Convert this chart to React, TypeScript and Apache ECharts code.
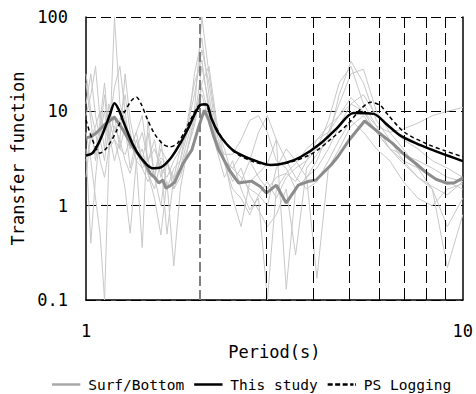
import React, { useEffect, useRef } from "react";
import * as echarts from "echarts";

// Period grid for individual Surf/Bottom records (s)
const recPeriods = [1.0, 1.03, 1.06, 1.09, 1.12, 1.15, 1.19, 1.23, 1.27, 1.31, 1.36, 1.41, 1.46, 1.52, 1.58, 1.64, 1.71, 1.78, 1.86, 1.94, 2.03, 2.12, 2.22, 2.33, 2.45, 2.58, 2.72, 2.87, 3.03, 3.2, 3.4, 3.6, 3.85, 4.1, 4.4, 4.7, 5.05, 5.45, 5.9, 6.4, 6.95, 7.6, 8.3, 9.1, 10.0];

const recA = [20, 8, 3, 6, 15, 5, 9, 4, 7, 2.5, 5, 3, 6, 2, 4, 3, 1.8, 3, 6, 25, 60, 15, 5, 3, 2.5, 2, 1.5, 1.3, 1.8, 1.2, 2, 2.5, 3, 4, 8, 20, 30, 12, 7, 4, 3, 2.5, 2, 1.8, 1.5];
const recB = [6, 3, 1.2, 0.5, 0.1, 3, 100, 12, 8, 4, 6, 9, 3, 2, 5, 1.5, 2.5, 3, 8, 20, 35, 10, 4, 2, 3, 1.5, 0.9, 1.2, 0.1, 1.5, 2.2, 1.8, 3, 5, 6, 9, 14, 10, 6, 4, 3.5, 3, 2.5, 2, 1.8];
const recC = [12, 25, 9, 5, 3, 7, 18, 30, 10, 4, 6, 3, 2.2, 1.5, 3, 0.5, 2, 4, 7, 15, 45, 20, 6, 3, 1.8, 2.5, 1.3, 0.9, 0.6, 0.8, 1.5, 0.3, 2.5, 3.5, 5, 15, 34, 20, 8, 5, 3, 2, 1.5, 0.6, 1.2];
const recD = [4, 0.4, 2, 6, 10, 4, 5, 3, 1.5, 0.51, 3, 0.36, 8, 2, 1, 3, 1.5, 2.5, 5, 10, 100, 25, 7, 4, 2, 1.8, 3, 6, 9, 5, 0.13, 1.5, 2, 3, 6, 12, 25, 28, 10, 6, 4, 2.5, 1.5, 0.22, 0.8];
const recE = [9, 15, 30, 8, 4, 12, 6, 8, 15, 6, 3, 4, 2.2, 1.2, 0.49, 1.8, 0.23, 1.5, 4, 8, 30, 12, 5, 2.8, 1.5, 1.2, 0.8, 1.3, 1.0, 2.5, 4, 3, 2, 2.5, 4, 7, 12, 15, 9, 7, 5, 4, 3, 2.5, 2];
const recF = [3, 5, 7, 10, 6, 8, 5, 4, 3.5, 5, 3, 2.5, 3, 4, 2.5, 2, 3, 4, 6, 10, 15, 8, 4, 3, 2.5, 3.5, 3, 2, 1.5, 2, 2.2, 2.8, 4, 5, 7, 9, 12, 10, 7, 6, 6.5, 7.5, 9, 10, 11];
const recG = [2, 6, 3.5, 8, 20, 6, 3, 5, 25, 8, 4, 6, 3, 5, 2, 3, 1.5, 2, 4, 7, 20, 30, 8, 3, 1.2, 0.6, 1.8, 2.2, 2.8, 5, 3, 2, 1.5, 1.8, 3, 5, 8, 6, 4, 3, 1.8, 1.2, 1, 1.5, 1.7];
const recH = [25, 10, 6, 3, 2, 4, 7, 5, 3, 2.2, 4, 2.5, 1.8, 2.5, 3.2, 2.8, 2, 2.5, 4, 9, 18, 9, 5, 3.5, 3.5, 5, 8, 9, 6, 3, 2.5, 1.5, 2, 0.17, 2.5, 4, 7, 9, 6, 4, 2.8, 2, 1.6, 1.3, 1.8];
const records = [recA, recB, recC, recD, recE, recF, recG, recH];

// Mean Surf/Bottom
const meanPeriods = [1.0, 1.04, 1.07, 1.12, 1.19, 1.25, 1.33, 1.4, 1.45, 1.48, 1.52, 1.56, 1.6, 1.63, 1.68, 1.72, 1.81, 1.91, 1.99, 2.06, 2.12, 2.18, 2.25, 2.4, 2.54, 2.75, 2.9, 3.01, 3.2, 3.4, 3.66, 3.88, 4.08, 4.47, 4.66, 5.0, 5.49, 6.0, 6.5, 6.99, 7.5, 8.05, 8.5, 9.06, 9.5, 10.0];
const meanValues = [5.2, 5.5, 6, 7.2, 8.7, 6.5, 4.2, 3.2, 2.6, 2.2, 2.0, 1.74, 1.87, 1.53, 1.65, 1.78, 2.8, 3.9, 6.8, 10.3, 8, 5.5, 3.9, 2.4, 1.74, 1.82, 1.6, 1.36, 1.65, 1.07, 1.65, 1.8, 1.87, 2.7, 3.3, 5, 7.9, 5.9, 4.6, 3.5, 2.8, 2.2, 1.9, 1.73, 1.75, 1.96];

// This study
const studyPeriods = [1.0, 1.04, 1.08, 1.12, 1.16, 1.19, 1.22, 1.27, 1.33, 1.4, 1.5, 1.58, 1.68, 1.78, 1.88, 1.96, 2.03, 2.09, 2.15, 2.25, 2.45, 2.75, 3.09, 3.4, 3.72, 4.2, 4.63, 5.13, 5.8, 6.3, 6.8, 7.5, 8.3, 9.1, 10.0];
const studyValues = [3.4, 3.6, 4.6, 6.5, 9.5, 12.2, 10.5, 7, 4.5, 3.2, 2.5, 2.55, 3.2, 4.6, 7, 10, 11.8, 11.8, 8.5, 5.8, 3.9, 3.1, 2.7, 2.85, 3.3, 4.6, 6.6, 9.6, 9.4, 7.2, 5.6, 4.6, 3.9, 3.4, 2.97];

// PS Logging
const psPeriods = [1.0, 1.04, 1.09, 1.14, 1.2, 1.26, 1.32, 1.36, 1.4, 1.46, 1.52, 1.6, 1.67, 1.75, 1.83, 1.92, 2.02, 2.08, 2.15, 2.3, 2.5, 2.8, 3.1, 3.5, 4.0, 4.5, 4.95, 5.35, 5.7, 6.05, 6.3, 7.0, 8.05, 9.0, 10.0];
const psValues = [8.1, 5, 3.6, 4.2, 6, 9.5, 13, 14.2, 12, 8, 5.8, 4.5, 4.2, 4.6, 6.2, 9, 12, 11.8, 8.5, 5.2, 3.6, 2.9, 2.7, 2.9, 3.6, 5.2, 7.3, 10.5, 12.5, 11.5, 9.4, 6.0, 4.5, 3.8, 3.3];

const gridPeriods = [2, 3, 4, 5, 6, 7, 8, 9];
const legendNames = ["Surf/Bottom", "This study", "PS Logging"];

const FONT = "'DejaVu Sans Mono', monospace";
const SOLID_ICON = "path://M0,0h34v3h-34z";
const DASH_ICON = "path://M0,0h6v3h-6z M9,0h6v3h-6z M18,0h6v3h-6z M27,0h4v3h-4z M33,0h1v3h-1z";

const zip = (xs: number[], ys: number[]) => xs.map((x, i) => [x, ys[i]]);

export default function App() {
  const ref = useRef<HTMLDivElement>(null);
  useEffect(() => {
    if (!ref.current) return;
    const chart = echarts.init(ref.current, undefined, { renderer: "svg" });
    const recSeries = records.map((r, i) => ({
      name: "Record " + (i + 1),
      type: "line",
      data: zip(recPeriods, r),
      symbol: "none",
      lineStyle: { color: "#c8c8c8", width: 1 },
      itemStyle: { color: "#c8c8c8" },
      z: 3,
    }));
    const option = {
      animation: false,
      grid: { left: 86, right: 10, top: 17, bottom: 94 },
      legend: {
        data: [
          { name: legendNames[0], icon: SOLID_ICON, itemStyle: { color: "#a8a8a8" } },
          { name: legendNames[1], icon: SOLID_ICON, itemStyle: { color: "#000" } },
          { name: legendNames[2], icon: DASH_ICON, itemStyle: { color: "#000" } },
        ],
        left: 47,
        top: 372,
        itemWidth: 34,
        itemHeight: 2.5,
        itemGap: 10,
        textStyle: { fontFamily: FONT, fontSize: 14.5, color: "#000" },
      },
      xAxis: {
        type: "log",
        logBase: 10,
        min: 1,
        max: 10,
        name: "Period(s)",
        nameLocation: "middle",
        nameGap: 31,
        nameTextStyle: { fontFamily: FONT, fontSize: 17, color: "#000" },
        axisLine: { show: true, lineStyle: { color: "#000", width: 1.5 } },
        axisTick: { show: false },
        axisLabel: { fontFamily: FONT, fontSize: 17, color: "#000", margin: 22 },
        splitLine: { show: false },
      },
      yAxis: [
        {
          type: "log",
          logBase: 10,
          min: 0.1,
          max: 100,
          name: "Transfer function",
          nameLocation: "middle",
          nameGap: 58,
          nameTextStyle: { fontFamily: FONT, fontSize: 17, color: "#000" },
          axisLine: { show: true, lineStyle: { color: "#000", width: 1.5 } },
          axisTick: { show: false },
          axisLabel: { fontFamily: FONT, fontSize: 17, color: "#000", margin: 18 },
          splitLine: { show: true, lineStyle: { color: "#000", width: 1, type: [10, 5] } },
        },
        {
          type: "log",
          logBase: 10,
          min: 0.1,
          max: 100,
          position: "right",
          axisLine: { show: true, onZero: false, lineStyle: { color: "#000", width: 1.5 } },
          axisTick: { show: false },
          axisLabel: { show: false },
          splitLine: { show: false },
        },
      ],
      series: [
        {
          name: "grid",
          type: "line",
          data: [],
          symbol: "none",
          z: 1,
          markLine: {
            silent: true,
            symbol: "none",
            label: { show: false },
            lineStyle: { color: "#000", width: 1, type: [12, 5] },
            data: gridPeriods.map((p) =>
              p === 2
                ? { xAxis: p, lineStyle: { color: "#808080", width: 2, type: [10, 4] } }
                : { xAxis: p }
            ),
          },
        },
        ...recSeries,
        {
          name: "Surf/Bottom",
          type: "line",
          data: zip(meanPeriods, meanValues),
          symbol: "none",
          lineStyle: { color: "#8c8c8c", width: 3 },
          itemStyle: { color: "#a8a8a8" },
          z: 4,
        },
        {
          name: "PS Logging",
          type: "line",
          data: zip(psPeriods, psValues),
          symbol: "none",
          smooth: 0.3,
          lineStyle: { color: "#000", width: 1.5, type: [4, 3] },
          itemStyle: { color: "#000" },
          z: 5,
        },
        {
          name: "This study",
          type: "line",
          data: zip(studyPeriods, studyValues),
          symbol: "none",
          smooth: 0.3,
          lineStyle: { color: "#000", width: 2.5 },
          itemStyle: { color: "#000" },
          z: 6,
        },
      ],
    };
    chart.setOption(option as any);
    return () => chart.dispose();
  }, []);
  return (
    <div
      ref={ref}
      style={{ position: "fixed", left: 0, top: 0, width: 476, height: 394, background: "#fff" }}
    />
  );
}
